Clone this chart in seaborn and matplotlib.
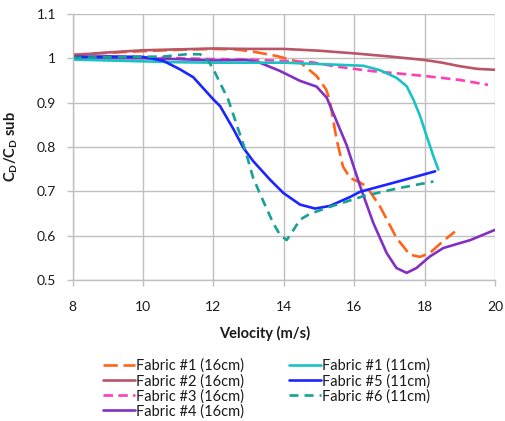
import numpy as np
import matplotlib
matplotlib.use("Agg")
import matplotlib.pyplot as plt
import seaborn as sns

# Drag ratio vs velocity for fabrics tested at two lengths
f1_16_v = [8.0, 9.0, 10.0, 11.0, 12.0, 12.6, 13.05, 13.8, 14.46, 14.93, 15.2, 15.3, 15.5, 15.68, 15.88, 16.16, 16.35, 16.73, 17.2, 17.58, 17.87, 18.15, 18.52, 18.86]
f1_16_y = [1.008, 1.012, 1.016, 1.019, 1.021, 1.02, 1.016, 1.005, 0.991, 0.96, 0.93, 0.907, 0.817, 0.756, 0.73, 0.72, 0.711, 0.666, 0.595, 0.557, 0.552, 0.561, 0.587, 0.609]

f2_16_v = [8.0, 9.0, 10.0, 11.0, 12.0, 13.0, 14.0, 15.0, 16.0, 17.0, 18.0, 18.5, 19.0, 19.5, 20.0]
f2_16_y = [1.007, 1.013, 1.018, 1.020, 1.022, 1.021, 1.021, 1.017, 1.011, 1.004, 0.996, 0.99, 0.982, 0.976, 0.974]

f3_16_v = [8.0, 9.0, 10.0, 11.0, 12.0, 13.0, 14.0, 14.8, 15.5, 16.5, 17.2, 18.0, 19.0, 19.8]
f3_16_y = [1.0, 1.002, 1.003, 1.0, 0.998, 0.997, 0.994, 0.991, 0.981, 0.971, 0.966, 0.96, 0.951, 0.94]

f4_16_v = [8.0, 9.0, 10.0, 11.0, 12.0, 12.95, 13.32, 13.9, 14.46, 14.93, 15.22, 15.5, 15.79, 16.17, 16.54, 16.92, 17.2, 17.49, 17.77, 18.15, 18.53, 19.3, 20.0]
f4_16_y = [0.999, 1.0, 1.0, 0.998, 0.995, 0.996, 0.99, 0.971, 0.949, 0.936, 0.911, 0.858, 0.803, 0.711, 0.629, 0.561, 0.527, 0.516, 0.527, 0.553, 0.572, 0.59, 0.613]

f1_11_v = [8.0, 9.0, 10.0, 11.0, 12.0, 13.0, 14.0, 15.31, 16.26, 16.73, 17.2, 17.49, 17.68, 17.87, 18.06, 18.25, 18.39]
f1_11_y = [0.997, 0.995, 0.993, 0.991, 0.99, 0.99, 0.99, 0.986, 0.983, 0.973, 0.956, 0.937, 0.907, 0.87, 0.824, 0.779, 0.749]

f5_11_v = [8.0, 9.0, 10.0, 10.58, 11.05, 11.43, 12.0, 12.19, 12.57, 12.85, 13.13, 13.61, 13.99, 14.46, 14.89, 15.31, 15.88, 16.17, 17.2, 18.3]
f5_11_y = [1.003, 1.004, 1.003, 0.994, 0.975, 0.957, 0.907, 0.892, 0.84, 0.798, 0.768, 0.726, 0.696, 0.67, 0.661, 0.667, 0.687, 0.699, 0.721, 0.745]

f6_11_v = [8.0, 9.0, 10.0, 10.6, 11.24, 11.62, 11.86, 12.0, 12.42, 12.9, 13.13, 13.42, 13.7, 13.89, 14.08, 14.22, 14.46, 14.74, 15.31, 15.79, 16.26, 17.2, 18.25]
f6_11_y = [1.001, 1.002, 1.003, 1.004, 1.009, 1.009, 0.994, 0.975, 0.907, 0.794, 0.73, 0.677, 0.628, 0.602, 0.59, 0.606, 0.636, 0.649, 0.665, 0.677, 0.689, 0.706, 0.722]

series_names = ["Fabric #1 (16cm)", "Fabric #2 (16cm)", "Fabric #3 (16cm)", "Fabric #4 (16cm)",
                "Fabric #1 (11cm)", "Fabric #5 (11cm)", "Fabric #6 (11cm)"]
x_ticks = [8, 10, 12, 14, 16, 18, 20]
y_ticks = [0.5, 0.6, 0.7, 0.8, 0.9, 1.0, 1.1]
y_tick_labels = ["0.5", "0.6", "0.7", "0.8", "0.9", "1", "1.1"]

sns.set_theme(style="white")
plt.rcParams["font.family"] = ["Lato", "DejaVu Sans"]
plt.rcParams["mathtext.fontset"] = "custom"
plt.rcParams["mathtext.rm"] = "Lato"
plt.rcParams["mathtext.bf"] = "Lato:bold"

fig = plt.figure(figsize=(5.05, 4.21), dpi=100)
ax = fig.add_axes([0.1438, 0.335, 0.9802 - 0.1438, 0.967 - 0.335])

lw = 1.9
styles = [
    (f1_16_v, f1_16_y, "#FF6318", (0, (5.4, 2.2))),
    (f2_16_v, f2_16_y, "#BA5566", "-"),
    (f3_16_v, f3_16_y, "#FF3DB8", (0, (3.6, 2.0))),
    (f4_16_v, f4_16_y, "#8230C4", "-"),
    (f1_11_v, f1_11_y, "#19C3C3", "-"),
    (f5_11_v, f5_11_y, "#1C24FF", "-"),
    (f6_11_v, f6_11_y, "#17A096", (0, (3.4, 2.3))),
]
for (xv, yv, col, ls), name in zip(styles, series_names):
    sns.lineplot(x=xv, y=yv, ax=ax, color=col, linewidth=lw, linestyle=ls,
                 label=name, estimator=None, sort=False)

ax.set_xlim(8, 20)
ax.set_ylim(0.5, 1.1)
ax.set_xticks(x_ticks)
ax.set_yticks(y_ticks)
ax.set_yticklabels(y_tick_labels)
ax.grid(True, color="#BFBFBF", linewidth=1.0)
ax.set_axisbelow(True)
for s in ["top", "right"]:
    ax.spines[s].set_visible(False)
for s in ["left", "bottom"]:
    ax.spines[s].set_color("#BFBFBF")
    ax.spines[s].set_linewidth(1.0)
ax.tick_params(axis="both", which="major", length=4, width=1.0, color="#BFBFBF",
               labelsize=10, labelcolor="#1a1a1a", direction="out", bottom=True, left=True)
ax.tick_params(axis="x", pad=11)
ax.tick_params(axis="y", pad=8)

ax.set_ylabel(r"$\mathbf{C_D/C_D}$ $\mathbf{sub}$", fontsize=10.5, color="#1a1a1a", labelpad=12)
ax.set_xlabel("")
fig.text(265 / 505, 1 - 333 / 421, "Velocity (m/s)", ha="center", va="center",
         fontsize=10.5, fontweight="bold", color="#1a1a1a")

if ax.legend_:
    ax.legend_.remove()
handles, labels = ax.get_legend_handles_labels()
leg = fig.legend(handles, labels, ncol=2, loc="upper left",
                 bbox_to_anchor=(97 / 505, 1 - 353 / 421), frameon=False,
                 fontsize=10.5, handlelength=2.2, handletextpad=0.05,
                 columnspacing=3.1, labelspacing=0.05, borderaxespad=0)
for t in leg.get_texts():
    t.set_color("#1a1a1a")

fig.savefig("out.png", dpi=100)
